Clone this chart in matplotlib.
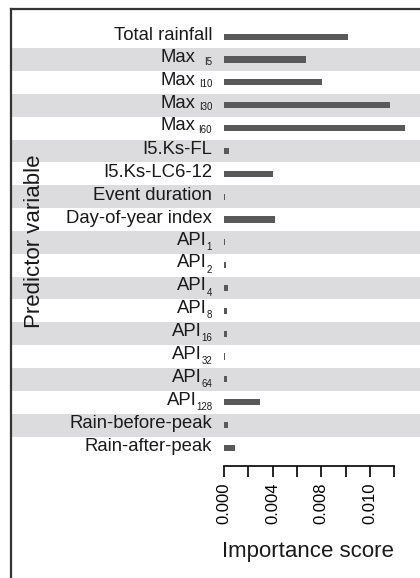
import numpy as np
import matplotlib
matplotlib.use('Agg')
import matplotlib.pyplot as plt
from matplotlib.lines import Line2D

plt.rcParams['font.family'] = ['Liberation Sans', 'DejaVu Sans']

# predictor names (top to bottom): main text + subscript, and importance scores
names = ['Total rainfall', 'Max', 'Max', 'Max', 'Max', 'I5.Ks-FL',
         'I5.Ks-LC6-12', 'Event duration', 'Day-of-year index',
         'API', 'API', 'API', 'API', 'API', 'API', 'API', 'API',
         'Rain-before-peak', 'Rain-after-peak']
subs = ['', 'I5', 'I10', 'I30', 'I60', '', '', '', '',
        '1', '2', '4', '8', '16', '32', '64', '128', '', '']
scores = [0.01018, 0.00675, 0.00807, 0.01366, 0.0149, 0.00039,
          0.0040, 0.0001, 0.0042,
          0.0001, 0.00015, 0.0003, 0.00025, 0.00025, 0.0001, 0.00025, 0.00296,
          0.0003, 0.0009]

xticks = [0.000, 0.002, 0.004, 0.006, 0.008, 0.010, 0.012, 0.014]
xticklabels = ['0.000', '', '0.004', '', '0.008', '', '0.010', '']

W, H = 420, 578
fig = plt.figure(figsize=(W / 100, H / 100), dpi=100)

# axes in pixel terms: left 224, right 420, top 8, bottom 466
AX_L, AX_W = 224, 196
ax = fig.add_axes([AX_L / W, 1 - 466 / H, AX_W / W, 458 / H])
y = np.arange(len(names))

# alternating grey bands reaching back to the frame
for i in y:
    if i % 2 == 1:
        ax.axhspan(i - 0.5, i + 0.5, xmin=(10 - AX_L) / AX_W, xmax=1.0,
                   color='#dcdcde', lw=0, clip_on=False, zorder=0)

ax.barh(y, scores, height=0.27, color='#595959', zorder=2)

ax.set_xlim(0, AX_W / 12150)
ax.set_ylim(18.79, -1.256)
ax.set_yticks([])

ax.set_xticks(xticks)
ax.set_xticklabels(xticklabels, rotation=90, fontsize=12)
ax.tick_params(axis='x', length=8, width=1.2, pad=4, direction='out')

for s in ['top', 'right', 'left']:
    ax.spines[s].set_visible(False)
ax.spines['bottom'].set_bounds(0, 0.014)
ax.spines['bottom'].set_linewidth(1.2)
ax.patch.set_alpha(0)

# row labels, drawn by hand so the subscripts can be small
renderer = fig.canvas.get_renderer()
tr = ax.get_yaxis_transform()
right_px = 212
for i, (nm, sb) in enumerate(zip(names, subs)):
    if sb == '':
        ax.text((right_px - AX_L) / AX_W, i + 0.14, nm, transform=tr,
                fontsize=13.3, ha='right', va='baseline', color='#1a1a1a')
        continue
    if nm == 'Max':
        sub_y = i + 0.22
    else:
        sub_y = i + 0.33
    st = ax.text((right_px - AX_L) / AX_W, sub_y, sb, transform=tr,
                 fontsize=7, ha='right', va='baseline', color='#1a1a1a')
    bb = st.get_window_extent(renderer)
    if nm == 'Max':
        main_r = 195.5
    else:
        main_r = right_px - bb.width + 0.5
    ax.text((main_r - AX_L) / AX_W, i + 0.1, nm, transform=tr,
            fontsize=13.3, ha='right', va='baseline', color='#1a1a1a')

fig.text(308 / W, 1 - 552 / H, 'Importance score', fontsize=16,
         ha='center', va='center', color='#1a1a1a')
fig.text(35 / W, 1 - 241.5 / H, 'Predictor variable', fontsize=16,
         rotation=90, ha='center', va='center', color='#1a1a1a')

# outer frame (top and left edges)
fig.add_artist(Line2D([10.5 / W, 1], [1 - 8.5 / H, 1 - 8.5 / H], color='#333333', lw=1.6))
fig.add_artist(Line2D([10.5 / W, 10.5 / W], [0, 1 - 8.5 / H], color='#333333', lw=1.6))

fig.savefig('out.png', dpi=100)
